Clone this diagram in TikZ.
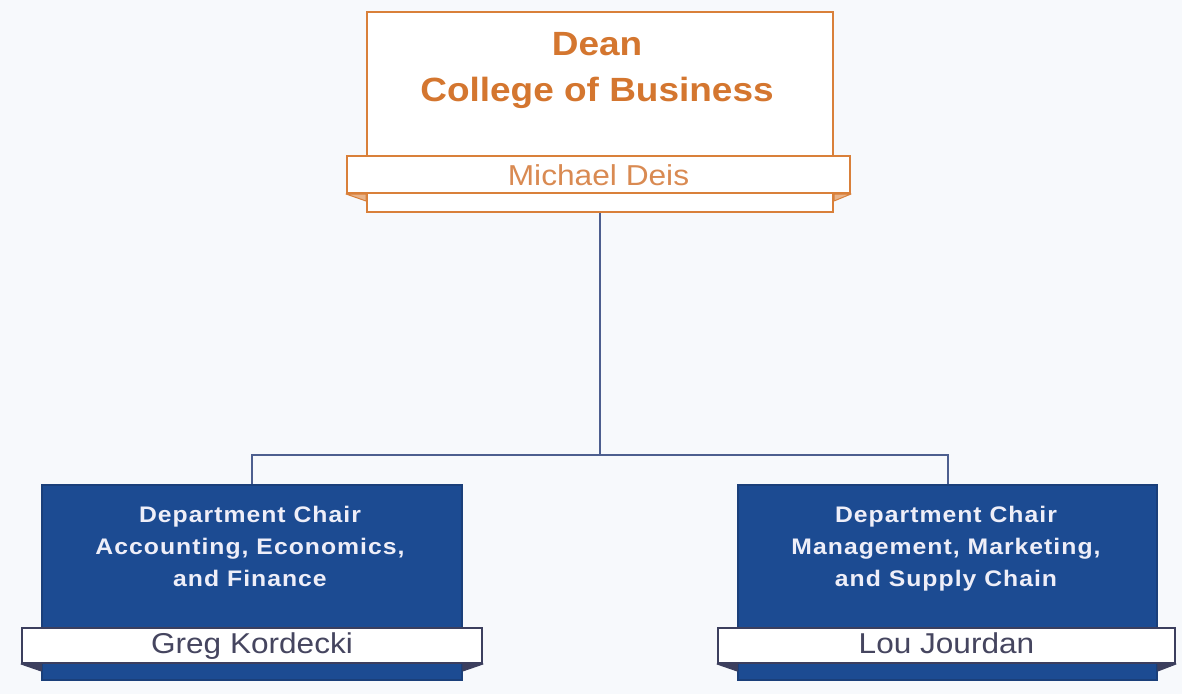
\documentclass[tikz,border=0pt]{standalone}
\usepackage{fontspec}
\setmainfont{Liberation Sans}
\newfontfamily\widesans[FakeStretch=1.1]{Liberation Sans}
\newfontfamily\spacedsans[FakeStretch=1.1,LetterSpace=4.5]{Liberation Sans}
\usetikzlibrary{calc}
\definecolor{bgc}{HTML}{F7F9FC}
\definecolor{orng}{HTML}{D9803A}
\definecolor{orngtxt}{HTML}{D4762F}
\definecolor{orngname}{HTML}{D98A52}
\definecolor{navy}{HTML}{1C4B92}
\definecolor{navyedge}{HTML}{1A3F7A}
\definecolor{chairtxt}{HTML}{EEEEF8}
\definecolor{bannertxt}{HTML}{45455F}
\definecolor{bannerline}{HTML}{3C3F5E}
\definecolor{linkc}{HTML}{4D5F8F}
\tikzset{
  deanbox/.style={draw=orng, line width=2pt, fill=white, minimum width=466pt, minimum height=200pt, inner sep=0pt},
  deanbanner/.style={draw=orng, line width=2pt, fill=white, minimum height=37pt, inner sep=0pt, text height=21pt, text depth=0pt, text=orngname, font=\widesans\fontsize{28.8}{30}\selectfont},
  chairbox/.style={draw=navyedge, line width=1.5pt, fill=navy, minimum width=420pt, minimum height=195pt, inner sep=0pt},
  chairbanner/.style={draw=bannerline, line width=2pt, fill=white, minimum height=35pt, inner sep=0pt, text height=20.5pt, text depth=5.5pt, text=bannertxt, font=\widesans\fontsize{28.7}{30}\selectfont},
  deantext/.style={text=orngtxt, align=center, inner sep=0pt, anchor=north, font=\widesans\bfseries\fontsize{33.6}{46}\selectfont},
  chairtext/.style={text=chairtxt, align=center, inner sep=0pt, anchor=north, font=\spacedsans\bfseries\fontsize{22.5}{32}\selectfont},
  link/.style={draw=linkc, line width=2pt},
  fold/.style={line width=1pt, line join=round}
}
\begin{document}
\begin{tikzpicture}[x=1pt,y=-1pt]
\fill[bgc] (0,0) rectangle (1182,694);
\useasboundingbox (0,0) rectangle (1182,694);
% connectors
\coordinate (j) at (600,455);
% boxes
\node[deanbox] (dean) at (600,112) {};
\node[chairbox] (chairL) at (252,582.5) {};
\node[chairbox, minimum width=419pt] (chairR) at (947.5,582.5) {};
\draw[link] (dean.south) -- (j) -| (chairL.north);
\draw[link] (j) -| (chairR.north);
% banners
\node[deanbanner, minimum width=503pt] (bD) at (598.5,174.5) {Michael Deis};
\node[chairbanner, minimum width=460pt] (bL) at (252,645.5) {Greg Kordecki};
\node[chairbanner, minimum width=457pt] (bR) at (946.5,645.5) {Lou Jourdan};
% folds
\filldraw[fold, draw=orng, fill=orng!60] (bD.south west) -- ($(dean.west |- bD.south)+(0,7)$) -- (dean.west |- bD.south) -- cycle;
\filldraw[fold, draw=orng, fill=orng!60] (bD.south east) -- ($(dean.east |- bD.south)+(0,7)$) -- (dean.east |- bD.south) -- cycle;
\filldraw[fold, draw=bannerline, fill=bannerline] (bL.south west) -- ($(chairL.west |- bL.south)+(0,7)$) -- (chairL.west |- bL.south) -- cycle;
\filldraw[fold, draw=bannerline, fill=bannerline] (bL.south east) -- ($(chairL.east |- bL.south)+(0,7)$) -- (chairL.east |- bL.south) -- cycle;
\filldraw[fold, draw=bannerline, fill=bannerline] (bR.south west) -- ($(chairR.west |- bR.south)+(0,7)$) -- (chairR.west |- bR.south) -- cycle;
\filldraw[fold, draw=bannerline, fill=bannerline] (bR.south east) -- ($(chairR.east |- bR.south)+(0,7)$) -- (chairR.east |- bR.south) -- cycle;
% titles
\node[deantext] (tD) at (597,32) {Dean\\College of Business};
\node[chairtext] (tL) at (250,506) {Department Chair\\Accounting, Economics,\\and Finance};
\node[chairtext] (tR) at (946,506) {Department Chair\\Management, Marketing,\\and Supply Chain};
\end{tikzpicture}
\end{document}
